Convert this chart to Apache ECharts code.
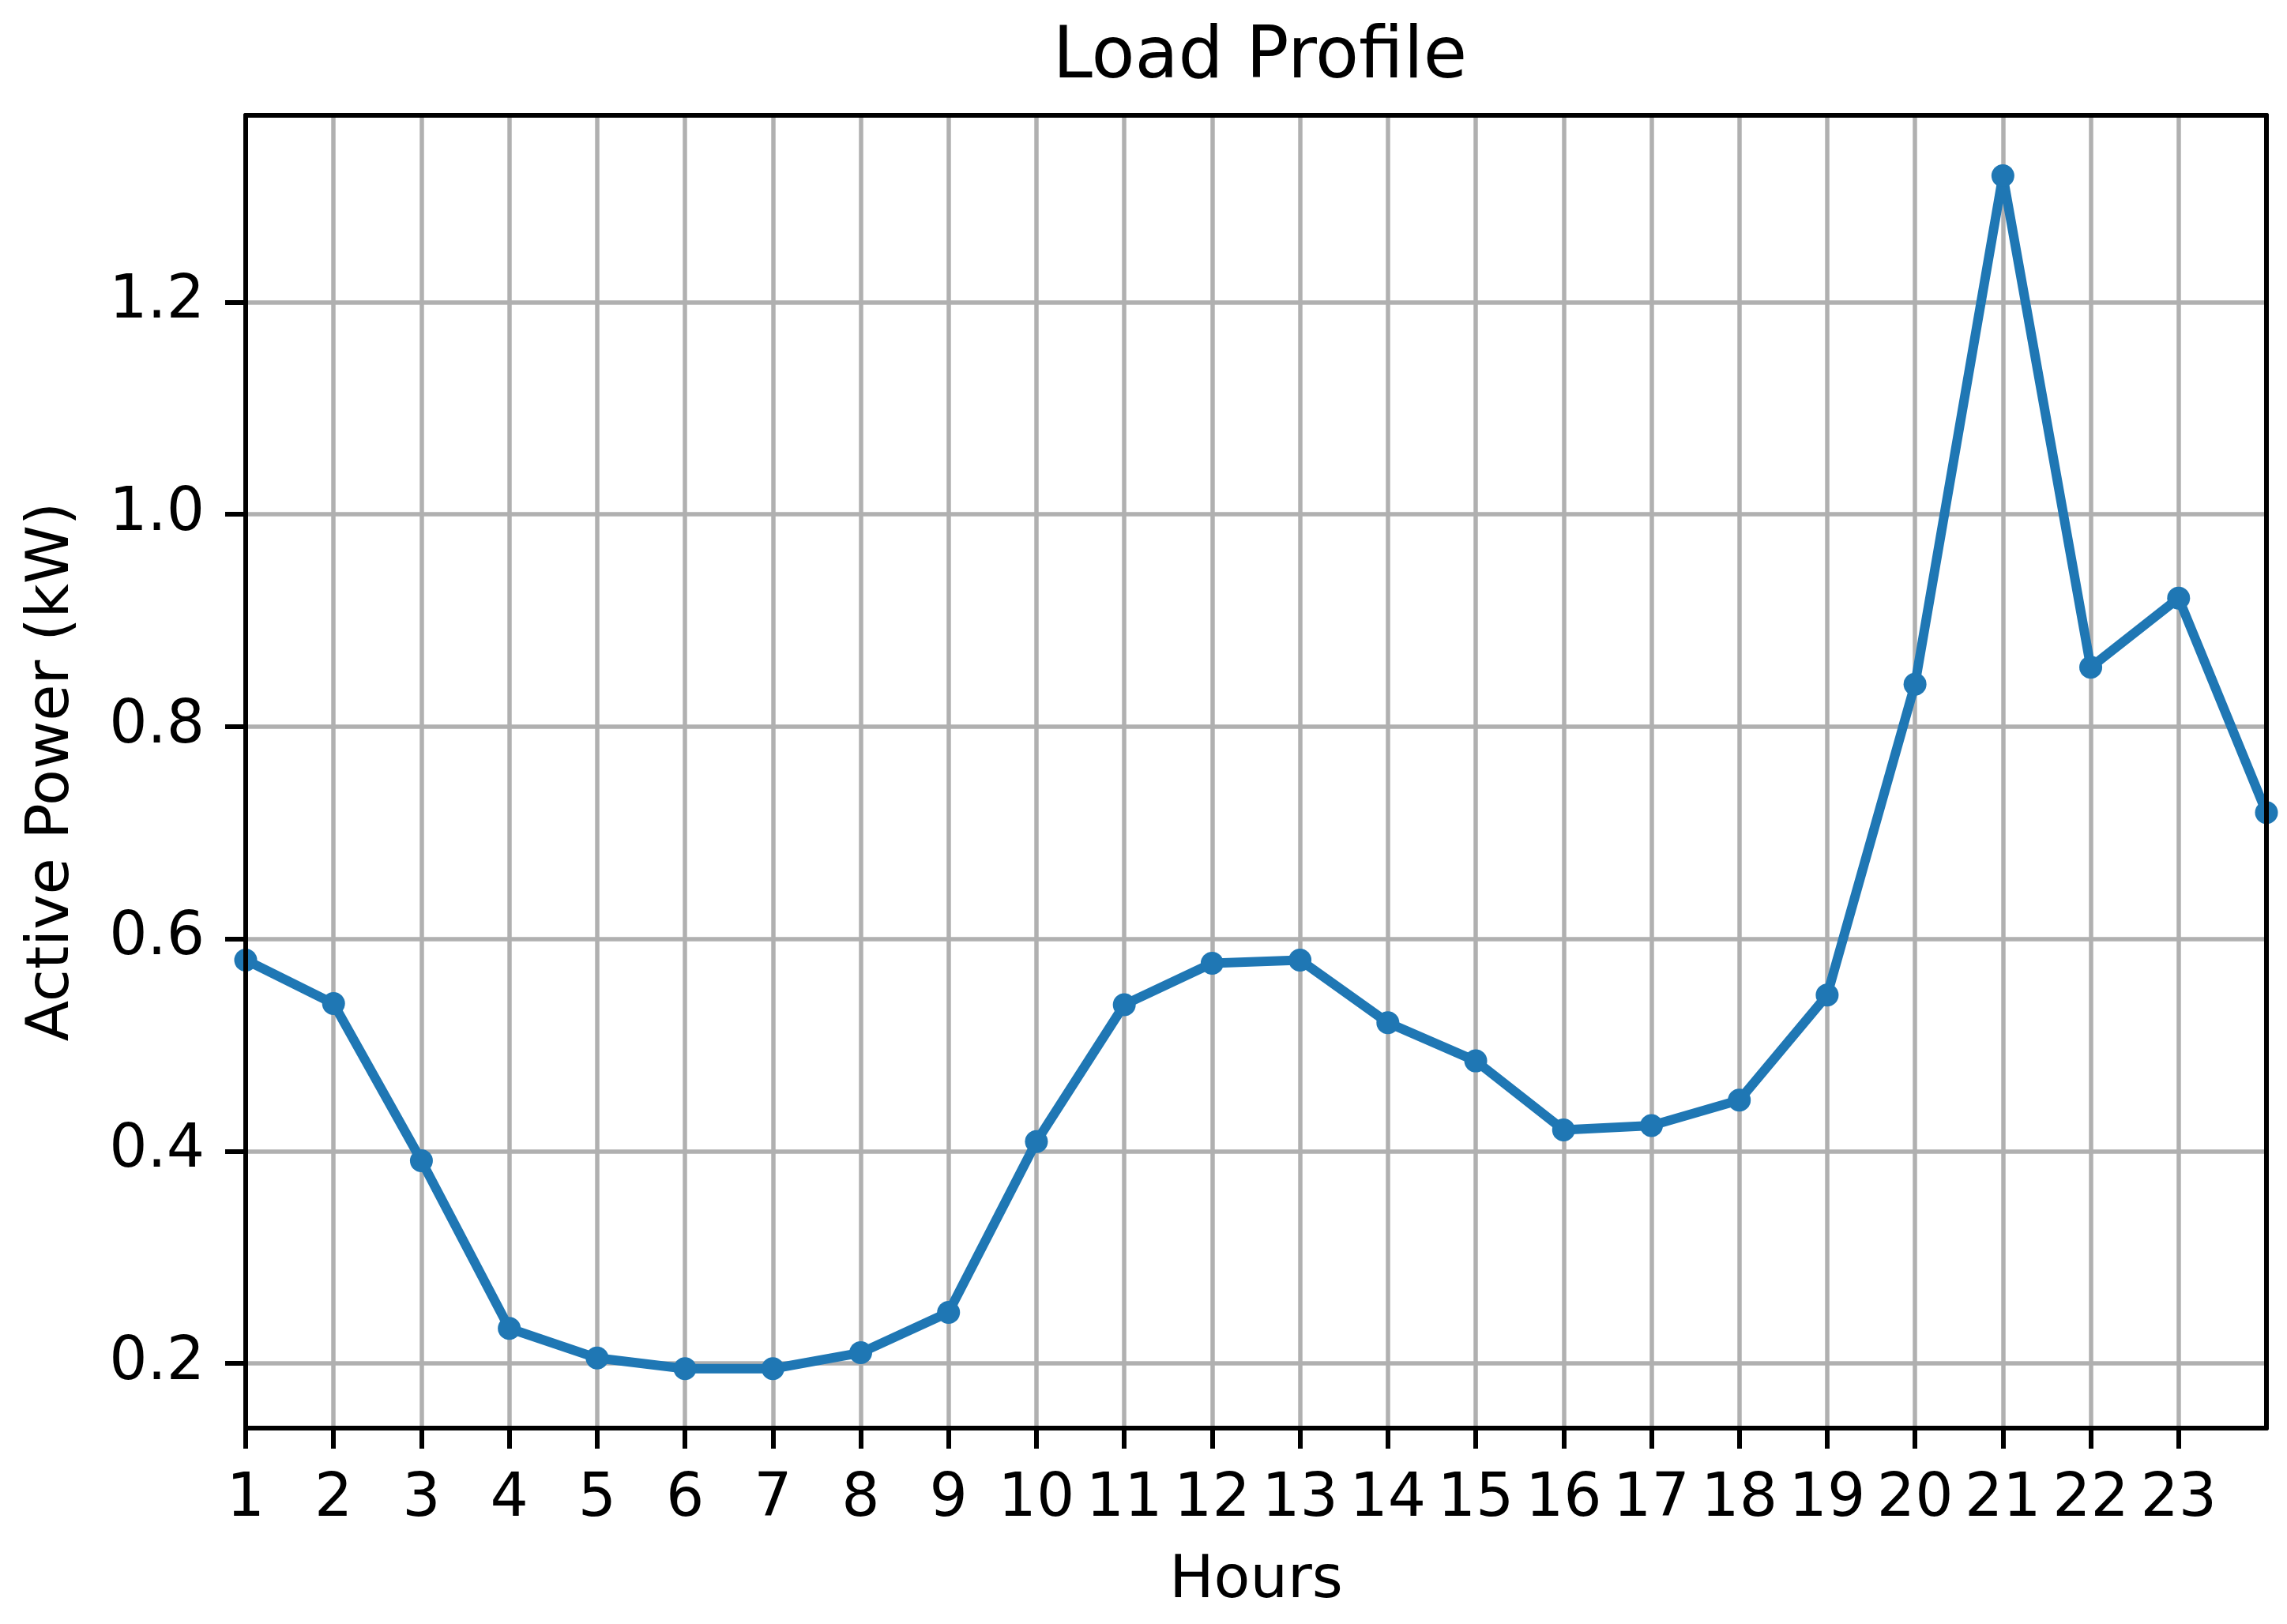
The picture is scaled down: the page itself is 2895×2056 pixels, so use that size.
<!DOCTYPE html>
<html>
<head>
<meta charset="utf-8">
<script src="https://cdn.jsdelivr.net/npm/echarts@6/dist/echarts.min.js"></script>
<style>html,body{margin:0;padding:0;background:#fff}#c{width:2895px;height:2056px}</style>
</head>
<body>
<div id="c"></div>
<script>
const hours = [1,2,3,4,5,6,7,8,9,10,11,12,13,14,15,16,17,18,19,20,21,22,23,24];
const activePower = [0.580,0.539,0.391,0.233,0.205,0.195,0.195,0.210,0.248,0.409,0.538,0.577,0.580,0.521,0.485,0.420,0.424,0.448,0.547,0.840,1.319,0.856,0.921,0.719];
const xTicks = [1,2,3,4,5,6,7,8,9,10,11,12,13,14,15,16,17,18,19,20,21,22,23];
const yTicks = [0.2,0.4,0.6,0.8,1.0,1.2];
const yMin = 0.139, yMax = 1.376;

const font = 'DejaVu Sans';
const chart = echarts.init(document.getElementById('c'), null, {renderer:'canvas'});
const axisLineStyle = {color:'#000', width:6};
chart.setOption({
  animation:false,
  backgroundColor:'#fff',
  title:{text:'Load Profile', left:1590, textAlign:'center', top:25,
    textStyle:{fontFamily:font, fontSize:90, fontWeight:'normal', color:'#000'}},
  grid:{left:311, right:26, top:146, bottom:248, containLabel:false},
  xAxis:[
    {type:'value', min:1, max:24, interval:1, position:'bottom', z:0,
      axisLine:{show:false}, axisTick:{show:false, customValues:xTicks}, axisLabel:{show:false},
      splitLine:{show:true, lineStyle:{color:'#b0b0b0', width:5.5}}},
    {type:'value', min:1, max:24, interval:1, position:'bottom', z:10,
      name:'Hours', nameLocation:'middle', nameGap:157,
      nameTextStyle:{fontFamily:font, fontSize:75, color:'#000'},
      axisLine:{show:true, onZero:false, lineStyle:axisLineStyle},
      axisTick:{show:true, length:26, lineStyle:{color:'#000', width:6}, customValues:xTicks},
      axisLabel:{show:true, margin:53, fontFamily:font, fontSize:76, color:'#000', customValues:xTicks},
      splitLine:{show:false}},
    {type:'value', min:1, max:24, position:'top', z:10,
      axisLine:{show:true, onZero:false, lineStyle:axisLineStyle},
      axisTick:{show:false}, axisLabel:{show:false}, splitLine:{show:false}}
  ],
  yAxis:[
    {type:'value', min:yMin, max:yMax, position:'left', z:0,
      axisLine:{show:false}, axisTick:{show:false, customValues:yTicks}, axisLabel:{show:false, customValues:yTicks},
      splitLine:{show:true, customValues:yTicks, lineStyle:{color:'#b0b0b0', width:5.5}}},
    {type:'value', min:yMin, max:yMax, position:'left', z:10,
      name:'Active Power (kW)', nameLocation:'middle', nameGap:207,
      nameTextStyle:{fontFamily:font, fontSize:75, color:'#000'},
      axisLine:{show:true, onZero:false, lineStyle:axisLineStyle},
      axisTick:{show:true, length:26, lineStyle:{color:'#000', width:6}, customValues:yTicks},
      axisLabel:{show:true, margin:52, fontFamily:font, fontSize:76, color:'#000', customValues:yTicks,
        formatter:v=>v.toFixed(1)},
      splitLine:{show:false}},
    {type:'value', min:yMin, max:yMax, position:'right', z:10,
      axisLine:{show:true, onZero:false, lineStyle:axisLineStyle},
      axisTick:{show:false}, axisLabel:{show:false}, splitLine:{show:false}}
  ],
  series:[{
    type:'line', xAxisIndex:0, yAxisIndex:0,
    data:hours.map((h,i)=>[h, activePower[i]]),
    symbol:'circle', symbolSize:29, clip:true,
    lineStyle:{color:'#1f77b4', width:12},
    itemStyle:{color:'#1f77b4'},
    z:2
  }]
});
</script>
</body>
</html>
